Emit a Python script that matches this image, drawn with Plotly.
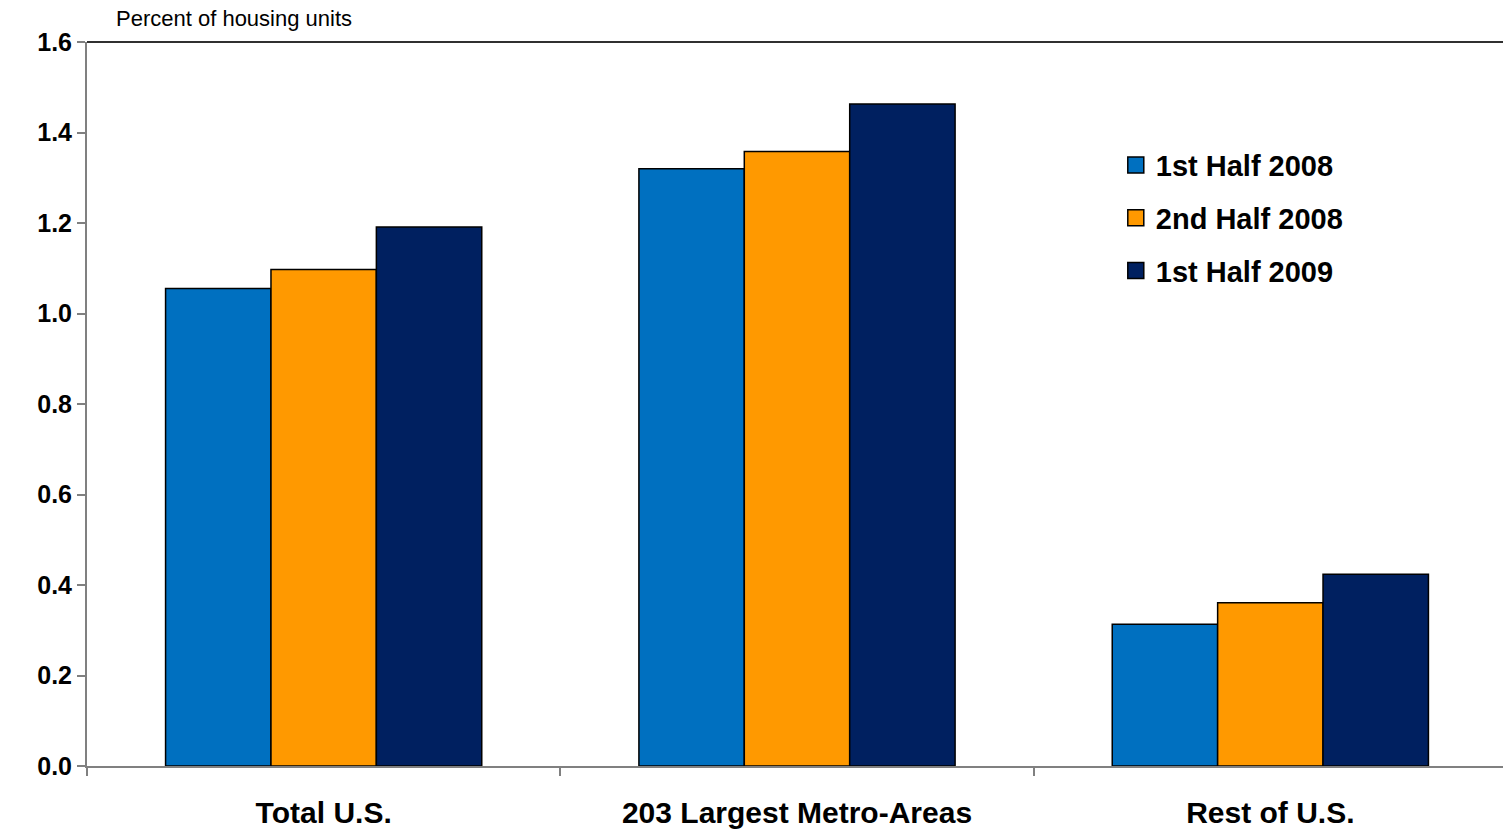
import plotly.graph_objects as go

categories = ['Total U.S.', '203 Largest Metro-Areas', 'Rest of U.S.']
series_names = ['1st Half 2008', '2nd Half 2008', '1st Half 2009']
h1_2008 = [1.055, 1.320, 0.313]
h2_2008 = [1.097, 1.358, 0.361]
h1_2009 = [1.191, 1.463, 0.424]
colors = ['#0070C0', '#FF9900', '#002060']

FONT = 'Liberation Sans, Arial, sans-serif'

fig = go.Figure()
for i, (name, vals) in enumerate(zip(series_names, [h1_2008, h2_2008, h1_2009])):
    fig.add_trace(go.Bar(
        x=categories, y=vals, name=name, showlegend=False,
        marker=dict(color=colors[i], line=dict(color='black', width=1.5)),
        hoverinfo='skip'
    ))
    # legend-only entry with a larger square swatch
    fig.add_trace(go.Scatter(
        x=[None], y=[None], name=name, legendgroup=name, mode='markers',
        marker=dict(symbol='square', size=16, color=colors[i],
                    line=dict(color='black', width=1.5)),
    ))

# plot area runs a few px past the right edge of the window, as in the original
fig.update_layout(
    width=1507, height=830,
    margin=dict(l=87, r=0, t=42, b=64),
    plot_bgcolor='white', paper_bgcolor='white',
    barmode='group', bargap=0.332, bargroupgap=0,
    font=dict(family=FONT, color='black'),
    legend=dict(
        x=0.7245, y=0.865, xanchor='left', yanchor='top',
        font=dict(size=29, family=FONT, color='black', weight='bold'),
        traceorder='grouped', tracegroupgap=12,
        bgcolor='rgba(0,0,0,0)', itemwidth=30
    ),
    showlegend=True,
)

fig.update_yaxes(
    range=[0, 1.6], dtick=0.2, tickformat='.1f',
    showgrid=False, zeroline=False,
    showline=True, linecolor='#808080', linewidth=2,
    ticks='outside', ticklen=8, tickcolor='#808080', tickwidth=2,
    tickfont=dict(size=25, family=FONT, color='black', weight='bold'),
    ticklabelstandoff=0,
)
fig.update_xaxes(
    showgrid=False,
    showline=True, linecolor='#808080', linewidth=2,
    ticks='outside', tickson='boundaries', ticklen=8, tickcolor='#808080', tickwidth=1.5,
    tickfont=dict(size=30, family=FONT, color='black', weight='bold'),
    ticklabelstandoff=19,
)

# top border of the plot area
fig.add_shape(type='line', xref='paper', yref='paper', x0=0, x1=1, y0=1, y1=1,
              line=dict(color='#303030', width=2))

fig.add_annotation(
    text='Percent of housing units', xref='paper', yref='paper',
    x=0.019, y=1.0, xanchor='left', yanchor='bottom', yshift=9,
    showarrow=False, font=dict(size=22, family=FONT, color='black')
)

# drop the default page margin so the figure sits at the window origin
fig.write_html(
    'out.html',
    config={'displayModeBar': False},
    post_script="document.body.style.margin='0';document.body.style.overflow='hidden';",
)
